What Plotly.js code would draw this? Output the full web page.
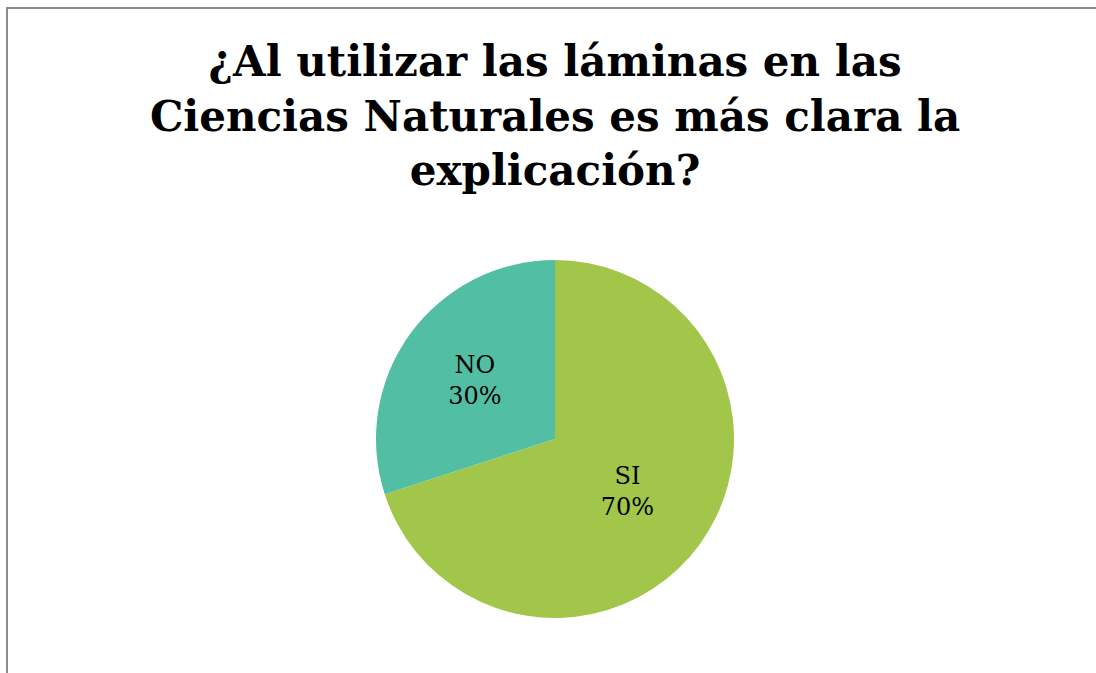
<!DOCTYPE html>
<html>
<head>
<meta charset="utf-8">
<script src="https://cdn.plot.ly/plotly-3.0.1.min.js"></script>
<style>
html,body{margin:0;padding:0;background:#fff;}
#wrap{position:relative;width:1096px;height:673px;overflow:hidden;}
#frame{position:absolute;left:6px;top:7px;width:1200px;height:800px;border-left:2px solid #8c8c8c;border-top:2px solid #8c8c8c;pointer-events:none;z-index:5;}
#chart{position:absolute;left:0;top:0;width:1096px;height:673px;}
</style>
</head>
<body>
<div id="wrap"><div id="chart"></div><div id="frame"></div></div>
<script>
const titleLines = ["¿Al utilizar las láminas en las", "Ciencias Naturales es más clara la", "explicación?"];
const labels = ["SI", "NO"];
const values = [70, 30];
const colors = ["#A2C64A", "#52BFA4"];

const W = 1096, H = 673;
const cx = 555, cy = 439, r = 179;

Plotly.newPlot('chart', [{
  type: 'pie',
  labels: labels,
  values: values,
  sort: false,
  direction: 'clockwise',
  rotation: 0,
  marker: {colors: colors, line: {width: 0}},
  textinfo: 'label+percent',
  texttemplate: '%{label}<br>%{percent:.0%}',
  textposition: 'inside',
  insidetextorientation: 'horizontal',
  textfont: {family: 'DejaVu Serif, serif', size: 24, color: '#000'},
  hoverinfo: 'none',
  showlegend: false,
  domain: {x: [(cx - r) / W, (cx + r) / W], y: [(H - cy - r) / H, (H - cy + r) / H]}
}], {
  width: W, height: H,
  margin: {l: 0, r: 0, t: 0, b: 0},
  paper_bgcolor: '#fff',
  title: {
    text: '<b>' + titleLines.join('<br>') + '</b>',
    font: {family: 'DejaVu Serif, serif', size: 42, color: '#000'},
    x: 0.5064, xanchor: 'center',
    y: 0.887, yanchor: 'top'
  },
  showlegend: false
}, {displayModeBar: false, staticPlot: true});
</script>
</body>
</html>
